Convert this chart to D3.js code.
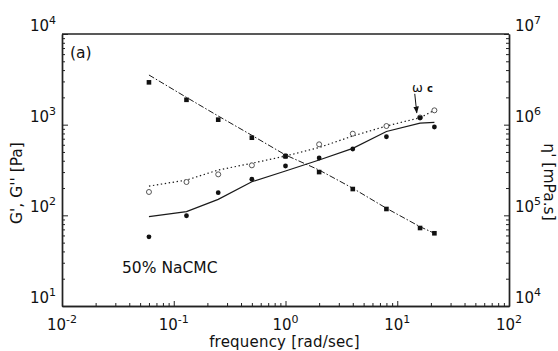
<!DOCTYPE html>
<html>
<head>
	<meta charset="utf-8" />
	<style>
		body {
			margin: 0;
			background-color: #fff;
		}
		svg text {
			font-family: 'DejaVu Sans', sans-serif;
			fill: #111;
		}
		.axis path {
			stroke: #222;
			stroke-width: 1.4px;
		}
		.axis line {
			stroke: #222;
			stroke-width: 1px;
		}
		.frameTop {
			stroke: #222;
			stroke-width: 1.6px;
		}
		.fitLine {
			fill: none;
			stroke: #1a1a1a;
		}
	</style>
</head>
<body>
	<div class='chart'></div>

<script src="https://cdn.jsdelivr.net/npm/d3@7"></script>

<script>

//// data ////
var freq       = [0.06, 0.13, 0.25, 0.5, 1, 2, 4, 8, 16, 21.5];            // rad/sec
var gPrime     = [58, 99, 178, 250, 350, 429, 539, 736, 1190, 942];         // G' [Pa], filled circles
var gDouble    = [181, 233, 283, 356, 451, 607, 795, 966, 1200, 1439];      // G'' [Pa], open circles
var etaPrime   = [2.93e6, 1.88e6, 1.135e6, 7.18e5, 4.48e5, 3.0e5, 1.95e5, 1.175e5, 7.25e4, 6.34e4]; // mPa.s, squares
var gPrimeFit  = [96.6, 110, 150, 235, 308, 408, 548, 840, 1040, 1062];     // solid line
var gDoubleFit = [210, 245, 316, 375, 451, 560, 750, 966, 1194, 1439];      // dotted line
var etaFit     = [3.53e6, 2.0e6, 1.246e6, 7.63e5, 4.63e5, 3.16e5, 1.99e5, 1.196e5, 7.49e4, 6.34e4]; // dash-dot line

// tick labels (exponents of 10)
var xTickExp     = ['-2', '-1', '0', '1', '2'];
var yLeftTickExp = ['1', '2', '3', '4'];
var yRightTickExp = ['4', '5', '6', '7'];

var omegaFreq = 16;   // where the ω c arrow points

//// layout ////
var margin = {top: 34, right: 49, bottom: 45, left: 62},
    width = 558 - margin.left - margin.right,
    height = 351 - margin.top - margin.bottom;

var x  = d3.scaleLog().domain([1e-2, 1e2]).range([0, width]);
var yL = d3.scaleLog().domain([1e1, 1e4]).range([height, 0]);
var yR = d3.scaleLog().domain([1e4, 1e7]).range([height, 0]);

var svg = d3.select('.chart').append('svg')
    .attr('width', width + margin.left + margin.right)
    .attr('height', height + margin.top + margin.bottom)
  .append('g')
    .attr('transform', 'translate(' + margin.left + ',' + margin.top + ')');

// major and minor tick values from the exponent lists
function majors(exps) { return exps.map(function (e) { return Math.pow(10, +e); }); }
function minors(exps) {
  var out = [];
  exps.slice(0, -1).forEach(function (e) {
    for (var k = 2; k < 10; k++) out.push(k * Math.pow(10, +e));
  });
  return out;
}

//// axes, ticks pointing inward ////
svg.append('g').attr('class', 'axis')
    .attr('transform', 'translate(0,' + height + ')')
    .call(d3.axisBottom(x).tickValues(minors(xTickExp)).tickSize(-3).tickSizeOuter(0).tickFormat(''));
svg.append('g').attr('class', 'axis')
    .attr('transform', 'translate(0,' + height + ')')
    .call(d3.axisBottom(x).tickValues(majors(xTickExp)).tickSize(-5).tickSizeOuter(0).tickFormat(''));

svg.append('g').attr('class', 'axis')
    .call(d3.axisLeft(yL).tickValues(minors(yLeftTickExp)).tickSize(-3).tickSizeOuter(0).tickFormat(''));
svg.append('g').attr('class', 'axis')
    .call(d3.axisLeft(yL).tickValues(majors(yLeftTickExp)).tickSize(-6).tickSizeOuter(0).tickFormat(''));

svg.append('g').attr('class', 'axis')
    .attr('transform', 'translate(' + width + ',0)')
    .call(d3.axisRight(yR).tickValues(minors(yRightTickExp)).tickSize(-3).tickSizeOuter(0).tickFormat(''));
svg.append('g').attr('class', 'axis')
    .attr('transform', 'translate(' + width + ',0)')
    .call(d3.axisRight(yR).tickValues(majors(yRightTickExp)).tickSize(-5).tickSizeOuter(0).tickFormat(''));

// top border, no ticks
svg.append('line')
    .attr('class', 'frameTop')
    .attr('x1', x.range()[0]).attr('x2', x.range()[1])
    .attr('y1', yL.range()[1]).attr('y2', yL.range()[1]);

// power-of-ten labels
function powLabel(sel) {
  sel.append('tspan').text('10');
  sel.append('tspan')
      .attr('font-size', '11px')
      .attr('dy', -7)
      .text(function (d) { return d; });
}

svg.selectAll('.xLab')
    .data(xTickExp)
  .enter().append('text')
    .attr('class', 'xLab')
    .attr('x', function (d) { return x(Math.pow(10, +d)); })
    .attr('y', height + 23.8)
    .attr('text-anchor', 'middle')
    .attr('font-size', '15px')
    .call(powLabel);

svg.selectAll('.yLLab')
    .data(yLeftTickExp)
  .enter().append('text')
    .attr('class', 'yLLab')
    .attr('x', -6)
    .attr('y', function (d) { return yL(Math.pow(10, +d)) - 3; })
    .attr('text-anchor', 'end')
    .attr('font-size', '15px')
    .call(powLabel);

svg.selectAll('.yRLab')
    .data(yRightTickExp)
  .enter().append('text')
    .attr('class', 'yRLab')
    .attr('x', width + 6)
    .attr('y', function (d) { return yR(Math.pow(10, +d)) - 3; })
    .attr('font-size', '15px')
    .call(powLabel);

// axis titles
svg.append('text')
    .attr('x', width / 2 - 1)
    .attr('y', height + 41.4)
    .attr('text-anchor', 'middle')
    .attr('font-size', '15px')
    .attr('letter-spacing', '0.2px')
    .text('frequency [rad/sec]');

svg.append('text')
    .attr('transform', 'translate(' + (-40) + ',' + (height / 2 + 13) + ') rotate(-90)')
    .attr('text-anchor', 'middle')
    .attr('font-size', '15.5px')
    .text("G', G'' [Pa]");

svg.append('text')
    .attr('transform', 'translate(' + (width + 35) + ',' + (height / 2 + 12) + ') rotate(90)')
    .attr('text-anchor', 'middle')
    .attr('font-size', '15.5px')
    .text("\u03B7' [mPa.s]");

// panel notes
svg.append('text')
    .attr('x', 8).attr('y', 24)
    .attr('font-size', '15.5px')
    .text('(a)');

svg.append('text')
    .attr('x', 60).attr('y', 239)
    .attr('font-size', '15.5px')
    .text('50% NaCMC');

//// fit lines ////
var rows = freq.map(function (f, i) {
  return {f: f, gp: gPrime[i], gd: gDouble[i], eta: etaPrime[i],
          gpFit: gPrimeFit[i], gdFit: gDoubleFit[i], etaFit: etaFit[i]};
});

svg.append('path')
    .datum(rows)
    .attr('class', 'fitLine')
    .attr('stroke-width', 1.2)
    .attr('d', d3.line()
        .x(function (d) { return x(d.f); })
        .y(function (d) { return yL(d.gpFit); }));

svg.append('path')
    .datum(rows)
    .attr('class', 'fitLine')
    .attr('stroke-width', 1.2)
    .attr('stroke-dasharray', '1.4,2.6')
    .attr('d', d3.line()
        .x(function (d) { return x(d.f); })
        .y(function (d) { return yL(d.gdFit); }));

svg.append('path')
    .datum(rows)
    .attr('class', 'fitLine')
    .attr('stroke-width', 1)
    .attr('stroke-dasharray', '6,2,1.5,2')
    .attr('d', d3.line()
        .x(function (d) { return x(d.f); })
        .y(function (d) { return yR(d.etaFit); }));

//// markers ////
svg.selectAll('.gd')
    .data(rows)
  .enter().append('circle')
    .attr('class', 'gd')
    .attr('cx', function (d) { return x(d.f); })
    .attr('cy', function (d) { return yL(d.gd); })
    .attr('r', 2.5)
    .attr('fill', '#fff')
    .attr('stroke', '#444')
    .attr('stroke-width', 0.9);

svg.selectAll('.eta')
    .data(rows)
  .enter().append('rect')
    .attr('class', 'eta')
    .attr('x', function (d) { return x(d.f) - 2.3; })
    .attr('y', function (d) { return yR(d.eta) - 2.3; })
    .attr('width', 4.6)
    .attr('height', 4.6)
    .attr('fill', '#111');

svg.selectAll('.gp')
    .data(rows)
  .enter().append('circle')
    .attr('class', 'gp')
    .attr('cx', function (d) { return x(d.f); })
    .attr('cy', function (d) { return yL(d.gp); })
    .attr('r', 2.4)
    .attr('fill', '#111');

//// ω c annotation ////
var oi = freq.indexOf(omegaFreq),
    ox = x(omegaFreq),
    oy = yL(gPrime[oi]);

svg.append('defs').append('marker')
    .attr('id', 'arrowHead')
    .attr('viewBox', '0 0 10 10')
    .attr('refX', 9).attr('refY', 5)
    .attr('markerWidth', 7).attr('markerHeight', 7)
    .attr('markerUnits', 'userSpaceOnUse')
    .attr('orient', 'auto')
  .append('path')
    .attr('d', 'M0,1 L10,5 L0,9 Z')
    .attr('fill', '#111');

svg.append('line')
    .attr('x1', ox - 5.3).attr('y1', oy - 24)
    .attr('x2', ox - 3.3).attr('y2', oy - 5)
    .attr('stroke', '#111')
    .attr('stroke-width', 1)
    .attr('marker-end', 'url(#arrowHead)');

var om = svg.append('text')
    .attr('x', ox - 8).attr('y', oy - 26)
    .attr('font-size', '13px');
om.append('tspan').text('\u03C9');
om.append('tspan').attr('dx', 4).attr('font-size', '10px').attr('font-weight', 'bold').text('c');

</script>
</body>
</html>
